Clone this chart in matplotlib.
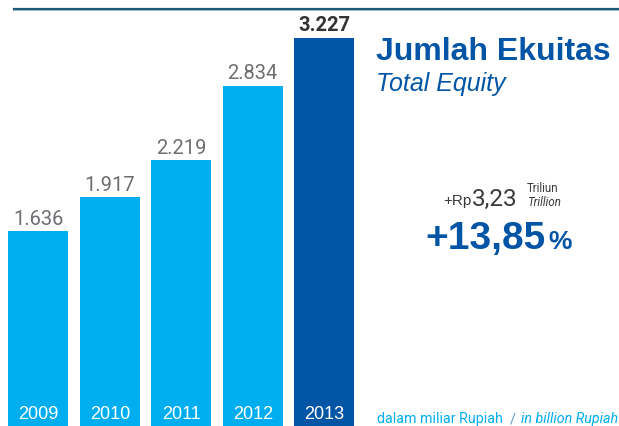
import matplotlib.pyplot as plt
from matplotlib.lines import Line2D
import matplotlib.transforms as mtransforms

plt.rcParams['font.family'] = ['Liberation Sans', 'DejaVu Sans']

years = ['2009', '2010', '2011', '2012', '2013']
equity = [1636, 1917, 2219, 2834, 3227]
value_labels = ['1.636', '1.917', '2.219', '2.834', '3.227']

LIGHT = '#00aeef'
DARK = '#0255a5'
GREY = '#6d6e71'
NARROW = ['Roboto', 'Liberation Sans', 'DejaVu Sans']

fig = plt.figure(figsize=(6.19, 4.26), dpi=100)
# axes spans whole width, baseline a bit below the bottom edge
ax = fig.add_axes([0, -0.011, 1, 1.011])
ax.axis('off')
ax.set_xlim(-0.539, 8.13)
ax.set_ylim(0, 3537)

colors = [LIGHT] * 4 + [DARK]
bars = ax.bar(range(len(years)), equity, width=0.84, color=colors)

year_tr = mtransforms.blended_transform_factory(ax.transData, fig.transFigure)
for i, (b, lab) in enumerate(zip(bars, value_labels)):
    last = i == len(years) - 1
    ax.text(b.get_x() + b.get_width() / 2, b.get_height() + 20, lab,
            ha='center', va='bottom', fontsize=14.5,
            color='#333333' if last else GREY,
            fontweight='bold' if last else 'normal', family=NARROW)
    # year inside bar bottom
    ax.text(b.get_x() + b.get_width() / 2, 1 - 419 / 426, years[i],
            transform=year_tr, ha='center', va='baseline', fontsize=13,
            color='white')

# top rule
fig.add_artist(Line2D([14 / 619, 1], [1 - 10 / 426] * 2, transform=fig.transFigure,
                      color='#b9c9d4', lw=1.5))
fig.add_artist(Line2D([14 / 619, 1], [1 - 8.5 / 426] * 2, transform=fig.transFigure,
                      color='#1e5a78', lw=1.6))


def fx(px):
    return px / 619


def fy(py):
    return 1 - py / 426


fig.text(fx(376), fy(60), 'Jumlah Ekuitas', fontsize=23, fontweight='bold',
         color=DARK, va='baseline')
fig.text(fx(376), fy(91), 'Total Equity', fontsize=18, style='italic',
         color=DARK, va='baseline')

# growth block
fig.text(fx(443), fy(205.5), '+Rp', fontsize=11, color='#3a3a3a', va='baseline')
fig.text(fx(471.5), fy(205.5), '3,23', fontsize=17.5, color='#3a3a3a', va='baseline',
         family=NARROW)
fig.text(fx(527), fy(191.5), 'Triliun', fontsize=8.3, color='#3a3a3a', va='baseline',
         family=NARROW)
fig.text(fx(527), fy(205.5), 'Trillion', fontsize=8.3, color='#3a3a3a', style='italic',
         va='baseline', family=NARROW)
fig.text(fx(425), fy(249), '+13,85', fontsize=28, fontweight='bold', color=DARK,
         va='baseline')
fig.text(fx(548), fy(249), '%', fontsize=19, fontweight='bold', color=DARK,
         va='baseline')

# unit note
fig.text(fx(377), fy(423), 'dalam miliar Rupiah', fontsize=10.3, color=LIGHT,
         va='baseline', family=NARROW)
fig.text(fx(510), fy(423), '/', fontsize=10.3, color='#5b9bc4', va='baseline',
         family=NARROW)
fig.text(fx(521), fy(423), 'in billion Rupiah', fontsize=10.3, color=LIGHT,
         style='italic', va='baseline', family=NARROW)

fig.savefig('out.png', dpi=100)
